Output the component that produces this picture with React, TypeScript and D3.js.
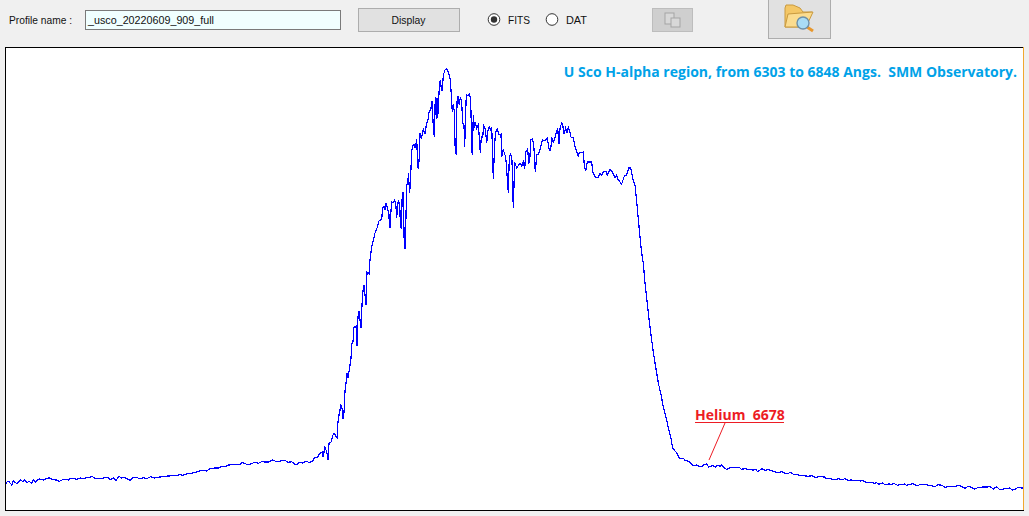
import React, { useMemo } from 'react';
import * as d3 from 'd3';

const WIDTH = 1029;
const HEIGHT = 516;

// spectrum: detector channel and relative intensity
const leftContinuumChannels = [0, 1.3, 3.3, 5.7, 7.3, 9.3, 10.7, 12, 14.7, 16.7, 18.7, 20.7, 23.3, 25.7, 27.3, 29.3, 31.3, 33.3, 37.3, 40.7, 43.3, 46.7, 50.7, 53.3, 56, 59, 62.3, 64.7, 68, 70.7, 74, 77.3, 80.7, 84, 85.7, 89, 92.3, 95.7, 99, 102.3, 104.7, 107.3, 110, 113, 115.7, 118, 120.7, 124, 126.3, 130.7, 134, 137.3, 140.7, 144.7, 148, 152.3];
const leftContinuumFlux = [26, 28.7, 28, 25, 29, 27.3, 26.7, 27.3, 30, 28.3, 30, 27.3, 28.7, 26.7, 30, 28, 29.7, 31, 30, 31.7, 32, 30.3, 30, 28.7, 30, 30.7, 30, 31.7, 31.3, 30.7, 32, 31.3, 32.3, 32.7, 33.7, 31.7, 31.7, 31.3, 32.7, 32, 30.3, 32, 29.7, 33.7, 32, 32.7, 31.3, 29.7, 32, 32.7, 31, 32.3, 31.3, 33.3, 32, 32.7];

const shoulderChannels = [154, 157.3, 162.3, 167.3, 170.7, 174, 176.7, 180.7, 185.7, 190.7, 195.7, 200.7, 204, 209, 212.3, 215.7, 219, 222.3, 227.3, 234, 236.3, 239, 242.3, 245.7, 249, 252.3, 255.7, 259, 262.3, 266.7, 270.7, 274, 278, 282.3, 285.7, 290, 294, 296.7, 300, 303.3, 306.7, 309, 311.3, 313.3];
const shoulderFlux = [33, 33.3, 34, 34.3, 34.7, 35.3, 34.7, 36, 36.7, 38, 39.7, 39, 41.3, 42, 42, 43.7, 43, 45, 45.3, 45.7, 47.7, 46.3, 45.3, 46.3, 48, 46.7, 48.3, 48, 48, 50, 48.3, 48.7, 50, 47.7, 48.3, 45, 48, 47, 49, 47.3, 49.3, 53, 52.3, 56.3];

const riseChannels = [316, 317, 319, 321, 322, 323, 325, 327, 328, 331, 332, 333, 335, 336, 337, 338, 339, 340, 341, 342, 344, 345, 346, 347, 348, 350, 351, 352, 353, 355, 356, 357, 358, 360, 361, 363, 364];
const riseFlux = [58, 53, 63, 57, 50, 67, 68, 75, 77, 72, 88, 95, 105, 102, 91, 98, 119, 127, 137, 132, 145, 152, 167, 168, 183, 184, 164, 193, 199, 182, 205, 219, 225, 205, 238, 236, 250];

const blueWingChannels = [365.7, 367, 369, 371, 373, 375.7, 376.7, 378, 379, 380, 381.3, 383, 383.3, 384.3, 385, 385.7, 387, 388.7, 389.7, 390.7, 391.3, 392.3, 393.7, 394.3, 395.3, 396.3, 397.3, 398.3, 399.3, 400, 400.7, 402, 402.3, 403.7, 404.7, 405.7, 406.7, 408, 409.3, 410.7, 411.7, 412.3, 413.3, 414, 415.3, 417.3, 419, 420.3, 422, 423, 424.7, 426, 427.3, 428.3, 429.3, 430.3, 431, 431.7, 432.7, 433.3, 434.3, 435.3, 436.3, 437.3, 439, 440.7, 442.3, 444, 445, 446.3, 447.3, 448.3, 449.3, 450.3, 451, 452, 453.3, 454.3, 455.7, 456.7, 458, 458.7, 459.3, 460.3, 462, 463.3, 464.3, 465, 465.7, 466.3, 467.3, 468, 469, 470.7, 472.3, 473.3, 474.3, 475.3, 476.7, 477.7, 479.3, 480.7, 482, 483.3, 484.7, 485.7, 486.7, 487.3, 488.7, 489.7, 491.3, 492.7, 494];
const blueWingFlux = [263, 268, 277, 282, 289, 291, 302, 304, 300, 307, 302, 296, 283, 283, 300, 308, 307, 310, 307, 292, 302, 309, 307, 287, 281, 317, 317, 262, 262, 295, 324, 329, 337, 317, 335, 359, 364, 366, 362, 371, 345, 341, 353, 377, 371, 381, 376, 385, 390, 398, 400, 409, 383, 373, 413, 391, 412, 392, 410, 423, 430, 422, 419, 435, 440, 441, 438, 432, 420, 398, 406, 398, 357, 356, 408, 414, 405, 413, 408, 387, 385, 363, 385, 415, 414, 416, 413, 398, 362, 355, 395, 382, 388, 382, 385, 373, 357, 373, 373, 384, 381, 367, 380, 383, 380, 383, 353, 331, 367, 378, 381, 376, 375];

const redWingChannels = [495, 495.7, 497.3, 498, 499.7, 501.3, 502.3, 503.3, 504.7, 506, 507.3, 508.7, 510.7, 514, 515.7, 517.3, 518.7, 519.7, 521.7, 522.7, 523.7, 524.7, 526.7, 528, 529.3, 530.7, 532.7, 534.7, 536.3, 539, 541.3, 543.3, 544.7, 545.7, 547.3, 549, 550.7, 551.7, 553, 554, 555.7, 556.7, 558, 559.7, 561, 562.3, 564, 565, 567.3, 569, 571.3, 572.3, 573.3, 577.3, 578.3, 579.7, 581.3, 585.7, 586.7, 590, 592.3, 594, 595.7, 597.3, 600, 601.3, 604, 606.3, 609, 610.7, 612.3, 615.7, 618.3, 620.7, 622.7, 624.7, 627.3, 629, 630.7, 632.3];
const redWingFlux = [376, 353, 361, 358, 353, 332, 317, 353, 356, 350, 302, 348, 342, 347, 344, 348, 341, 358, 361, 347, 348, 370, 371, 361, 338, 355, 356, 363, 370, 369, 372, 360, 360, 373, 368, 372, 379, 381, 366, 382, 387, 385, 376, 382, 377, 383, 378, 373, 372, 363, 357, 354, 357, 358, 345, 339, 348, 348, 338, 332, 333, 337, 335, 338, 339, 335, 341, 338, 332, 335, 330, 326, 334, 335, 342, 342, 329, 325, 308, 291];

const fallChannels = [634, 635.7, 637.3, 639, 640.7, 642.3, 644, 645.7, 647.3, 649, 650.7, 652.3, 654.7, 657.3, 660, 662.3, 664.7, 666.7, 670.7];
const fallFlux = [273, 257, 247, 227, 212, 197, 183, 170, 158, 147, 137, 127, 117, 103, 93, 82, 73, 62, 57];

const tailChannels = [674, 677.3, 679.3, 681.3, 684, 687.3, 690.7, 692.7, 695.7, 697.3, 700.7, 702.7, 704.7, 706.7, 709.3, 712, 714, 715.7, 719, 720.7, 724, 728, 733.3, 735.3, 739, 742.3, 746.7, 750, 751.7, 755.7, 759, 762.3, 765.7, 769, 772.3, 775.7, 779, 782.3, 784.7, 787.3, 792.3, 797.3, 802.3, 805.7, 809, 814, 818.3, 820.7, 824, 829, 832.3, 835.7, 839, 842.3, 845.7, 849, 851, 854, 857.3, 859.7, 865.7, 868.3, 870.7, 873, 876.3, 879, 882.3, 885.7, 888.3, 891.7, 894.3, 898.3, 900.7, 904, 907.3, 910.7, 914, 919, 924, 929, 932.3, 935.7, 939, 943, 949, 953, 955.7, 959, 962.3, 965.7, 968.3, 973, 977.3, 980.7, 984, 987.3, 990.7, 994, 997.3, 1000.7, 1004, 1006.3, 1009, 1012.3, 1015, 1017];
const tailFlux = [51, 51.7, 49.3, 49.3, 47.7, 44.3, 45, 44, 43.3, 45, 46, 43, 43.3, 44.7, 42.7, 45, 43.7, 45, 41.7, 40.3, 42.3, 42.7, 42.7, 40.7, 41.3, 40.7, 40, 40.3, 38.3, 41.3, 39.7, 40.3, 39.3, 38, 37.3, 38.3, 36.7, 36.7, 37.7, 35.7, 35, 34.3, 33.7, 34.3, 32.7, 33.3, 33, 31.3, 31.3, 30.3, 31.3, 30.3, 31.3, 29.7, 30, 29, 30, 29, 29.3, 27.7, 27.7, 26.7, 27.3, 25.7, 27, 25.3, 26, 25.7, 26.3, 24.7, 25.3, 26, 24.7, 25.7, 26.3, 24.3, 25.3, 25.3, 24.7, 23.3, 25.3, 24.7, 22.7, 23.7, 23.7, 24.7, 23.3, 21.7, 23.7, 22.7, 21, 22.7, 23, 23, 23.3, 21, 23.3, 20, 21, 21.7, 22, 20, 20.7, 22.7, 22, 22];

const channels = [...leftContinuumChannels, ...shoulderChannels, ...riseChannels, ...blueWingChannels, ...redWingChannels, ...fallChannels, ...tailChannels];
const flux = [...leftContinuumFlux, ...shoulderFlux, ...riseFlux, ...blueWingFlux, ...redWingFlux, ...fallFlux, ...tailFlux];

const chartTitle = 'U Sco H-alpha region, from 6303 to 6848 Angs.  SMM Observatory.';
const lineLabel = 'Helium  6678';
const profileName = '_usco_20220609_909_full';
const radioOptions = ['FITS', 'DAT'];

const plot = { left: 5, right: 1023, top: 47, bottom: 510 };

const uiFont = '"Liberation Sans", Arial, sans-serif';

export default function App() {
  const x = useMemo(() => d3.scaleLinear().domain([0, 1017]).range([6, 1023]), []);
  const y = useMemo(() => d3.scaleLinear().domain([0, 463]).range([510, 47]), []);
  const spectrum = d3.line<number>()
    .x(d => x(d))
    .y((_, i) => y(flux[i]));

  return (
    <svg width={WIDTH} height={HEIGHT} style={{ position: 'absolute', left: 0, top: 0, background: '#f0f0f0' }}>
      {/* toolbar */}
      <text x={9} y={24} fontFamily={uiFont} fontSize={11} fill="#111" textLength={63} lengthAdjust="spacingAndGlyphs">Profile name :</text>
      <rect x={85.5} y={10.5} width={255} height={19} fill="#f0ffff" stroke="#7a7a7a" />
      <text x={88} y={24} fontFamily={uiFont} fontSize={11} fill="#111" textLength={126} lengthAdjust="spacingAndGlyphs">{profileName}</text>
      <rect x={358.5} y={8.5} width={101} height={23} fill="#e1e1e1" stroke="#adadad" />
      <text x={391.5} y={24} fontFamily={uiFont} fontSize={11} fill="#111" textLength={34} lengthAdjust="spacingAndGlyphs">Display</text>

      {radioOptions.map((d, i) => {
        const cx = i === 0 ? 494 : 552;
        return (
          <g key={d}>
            <circle cx={cx} cy={19.5} r={5.8} fill="#fff" stroke="#333" />
            {i === 0 && <circle cx={cx} cy={19.5} r={3.2} fill="#333" />}
            <text x={cx + 14} y={24} fontFamily={uiFont} fontSize={11} fill="#111" textLength={i === 0 ? 22 : 21} lengthAdjust="spacingAndGlyphs">{d}</text>
          </g>
        );
      })}

      <rect x={652.5} y={8.5} width={40} height={23} fill="#cfcfcf" stroke="#bdbdbd" />
      <rect x={665} y={13} width={9} height={11} fill="#d8d8d8" stroke="#a5a5a5" />
      <rect x={671} y={18} width={9} height={9} fill="#d8d8d8" stroke="#a5a5a5" />

      <rect x={768.5} y={-2} width={62} height={40.5} fill="#e1e1e1" stroke="#adadad" />
      <path d="M785 8 L785 27 L806 27 L812 12 L803 12 L800 8 L793 5 L786 5 Z" fill="#f4c766" stroke="#c99a3f" />
      <path d="M788 14 L813 12 L806 27 L785 27 Z" fill="#fbdc8f" stroke="#c99a3f" />
      <line x1={807} y1={27} x2={813} y2={31} stroke="#e8972c" strokeWidth={3} />
      <circle cx={803} cy={23} r={6} fill="#a9dcf5" stroke="#6f8fa5" strokeWidth={1.4} />

      {/* plot area */}
      <rect x={plot.left + 0.5} y={plot.top + 0.5} width={plot.right - plot.left} height={plot.bottom - plot.top} fill="#fff" stroke="#000" />
      <line x1={plot.right + 0.5} y1={plot.top} x2={plot.right + 0.5} y2={plot.bottom} stroke="#f0a830" />

      <path
        d={spectrum(channels) ?? ''}
        fill="none"
        stroke="#0000ff"
        strokeWidth={1.2}
        shapeRendering="crispEdges"
      />

      <text x={1017} y={77} textAnchor="end" xmlSpace="preserve" fontFamily='"Open Sans", sans-serif' fontWeight={700} fontSize={14} fill="#00a2e8">{chartTitle}</text>

      <text x={695} y={420} xmlSpace="preserve" fontFamily='"Open Sans", sans-serif' fontWeight={700} fontSize={14} fill="#ed1c24">{lineLabel}</text>
      <line x1={695} y1={422.5} x2={784} y2={422.5} stroke="#ed1c24" />
      <line x1={725} y1={423} x2={709} y2={460} stroke="#ed1c24" />
    </svg>
  );
}
